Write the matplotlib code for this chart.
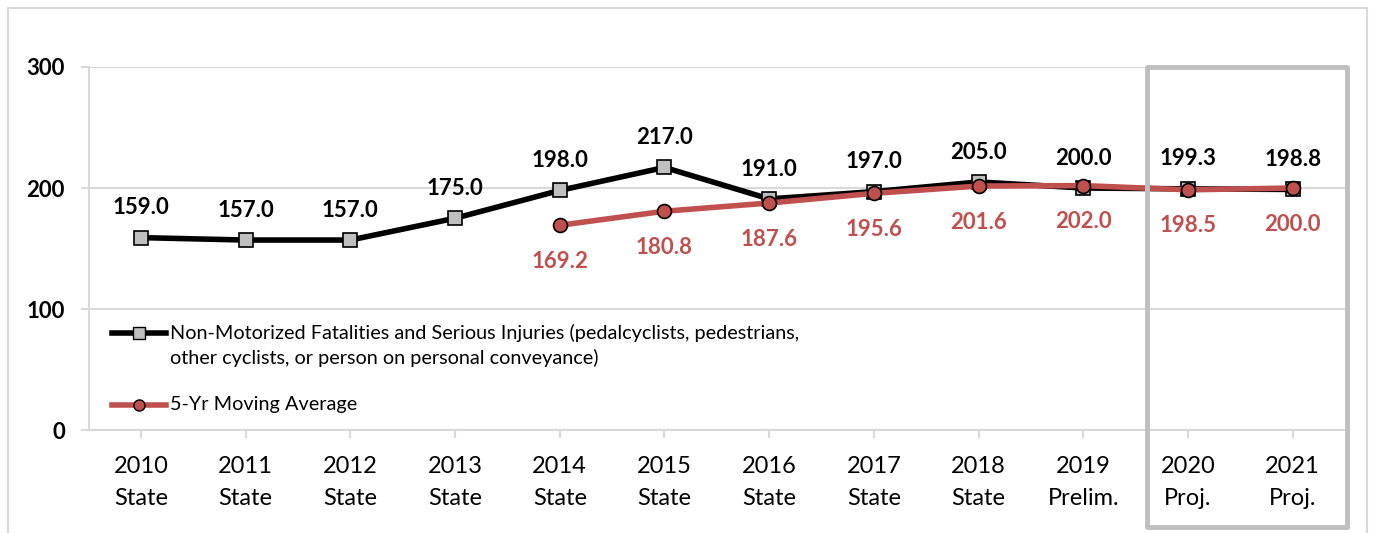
import matplotlib.pyplot as plt
from matplotlib.patches import Rectangle
from matplotlib.lines import Line2D
import matplotlib.transforms as mtransforms

plt.rcParams['font.family'] = ['Lato', 'DejaVu Sans']

categories = ["2010\nState", "2011\nState", "2012\nState", "2013\nState", "2014\nState",
              "2015\nState", "2016\nState", "2017\nState", "2018\nState", "2019\nPrelim.",
              "2020\nProj.", "2021\nProj."]
fatalities = [159.0, 157.0, 157.0, 175.0, 198.0, 217.0, 191.0, 197.0, 205.0, 200.0, 199.3, 198.8]
avg_start = 4
moving_avg = [169.2, 180.8, 187.6, 195.6, 201.6, 202.0, 198.5, 200.0]
yticks = [0, 100, 200, 300]

RED = "#C0504D"
GRID = "#D9D9D9"

fig = plt.figure(figsize=(13.77, 5.33), dpi=100)
ax = fig.add_axes([0.0643, 0.1932, 0.9125, 0.6811])

# outer chart border (runs past the bottom edge)
fig.patches.append(Rectangle((0.0055, -0.2), 0.987, 1.185, transform=fig.transFigure,
                             fill=False, edgecolor=GRID, lw=1.5, zorder=0))

x = list(range(len(categories)))
x_avg = x[avg_start:]

ax.plot(x, fatalities, color="black", lw=4, marker="s", markersize=10,
        markerfacecolor="#BFBFBF", markeredgecolor="black", markeredgewidth=1.2, zorder=3)
ax.plot(x_avg, moving_avg, color=RED, lw=4, marker="o", markersize=10,
        markerfacecolor=RED, markeredgecolor="black", markeredgewidth=1.2, zorder=4)

for xi, v in zip(x, fatalities):
    ax.annotate(f"{v:.1f}", (xi, v), xytext=(0, 21.5), textcoords="offset points",
                ha="center", va="center", fontsize=16, fontweight="bold", color="black")
for xi, v in zip(x_avg, moving_avg):
    ax.annotate(f"{v:.1f}", (xi, v), xytext=(0, -26), textcoords="offset points",
                ha="center", va="center", fontsize=16, fontweight="bold", color=RED)

ax.set_xlim(-0.5, len(categories) - 0.5)
ax.set_ylim(0, 300)
ax.set_yticks(yticks)
ax.set_yticklabels([str(t) for t in yticks], fontsize=16, fontweight="bold")
ax.set_xticks(x)
ax.set_xticklabels(categories, fontsize=17, linespacing=1.6)
ax.grid(axis="y", color=GRID, lw=1.5)
ax.set_axisbelow(True)
for side in ["top", "right"]:
    ax.spines[side].set_visible(False)
ax.spines["left"].set_color(GRID)
ax.spines["left"].set_linewidth(1.5)
ax.spines["bottom"].set_color(GRID)
ax.spines["bottom"].set_linewidth(1.5)
ax.tick_params(axis="x", color=GRID, width=1.5, length=6, pad=13)
ax.tick_params(axis="y", color=GRID, width=1.5, length=6, pad=11)

# projection box around 2020-2021
trans = mtransforms.blended_transform_factory(ax.transData, ax.transAxes)
ax.add_patch(Rectangle((9.61, -0.267), 1.91, 1.267, transform=trans, fill=False,
                       edgecolor="#BFBFBF", lw=3.5, clip_on=False, zorder=5,
                       joinstyle="round"))

# legend drawn by hand so the key sits on the first text line
leg_x0, leg_x1, leg_tx = 0.0186, 0.0616, 0.0648
ax.add_line(Line2D([leg_x0, leg_x1], [0.267, 0.267], transform=ax.transAxes, color="black",
                   lw=4, zorder=6))
ax.add_line(Line2D([(leg_x0 + leg_x1) / 2], [0.267], transform=ax.transAxes, marker="s",
                   markersize=8, markerfacecolor="#BFBFBF", markeredgecolor="black", zorder=7))
ax.add_line(Line2D([leg_x0, leg_x1], [0.069, 0.069], transform=ax.transAxes, color=RED,
                   lw=4, zorder=6))
ax.add_line(Line2D([(leg_x0 + leg_x1) / 2], [0.069], transform=ax.transAxes, marker="o",
                   markersize=8, markerfacecolor=RED, markeredgecolor="black", zorder=7))
ax.text(leg_tx, 0.267, "Non-Motorized Fatalities and Serious Injuries (pedalcyclists, pedestrians,",
        transform=ax.transAxes, va="center", ha="left", fontsize=14.3)
ax.text(leg_tx, 0.198, "other cyclists, or person on personal conveyance)",
        transform=ax.transAxes, va="center", ha="left", fontsize=14.3)
ax.text(leg_tx, 0.069, "5-Yr Moving Average",
        transform=ax.transAxes, va="center", ha="left", fontsize=14.3)

fig.savefig("out.png", dpi=100)
